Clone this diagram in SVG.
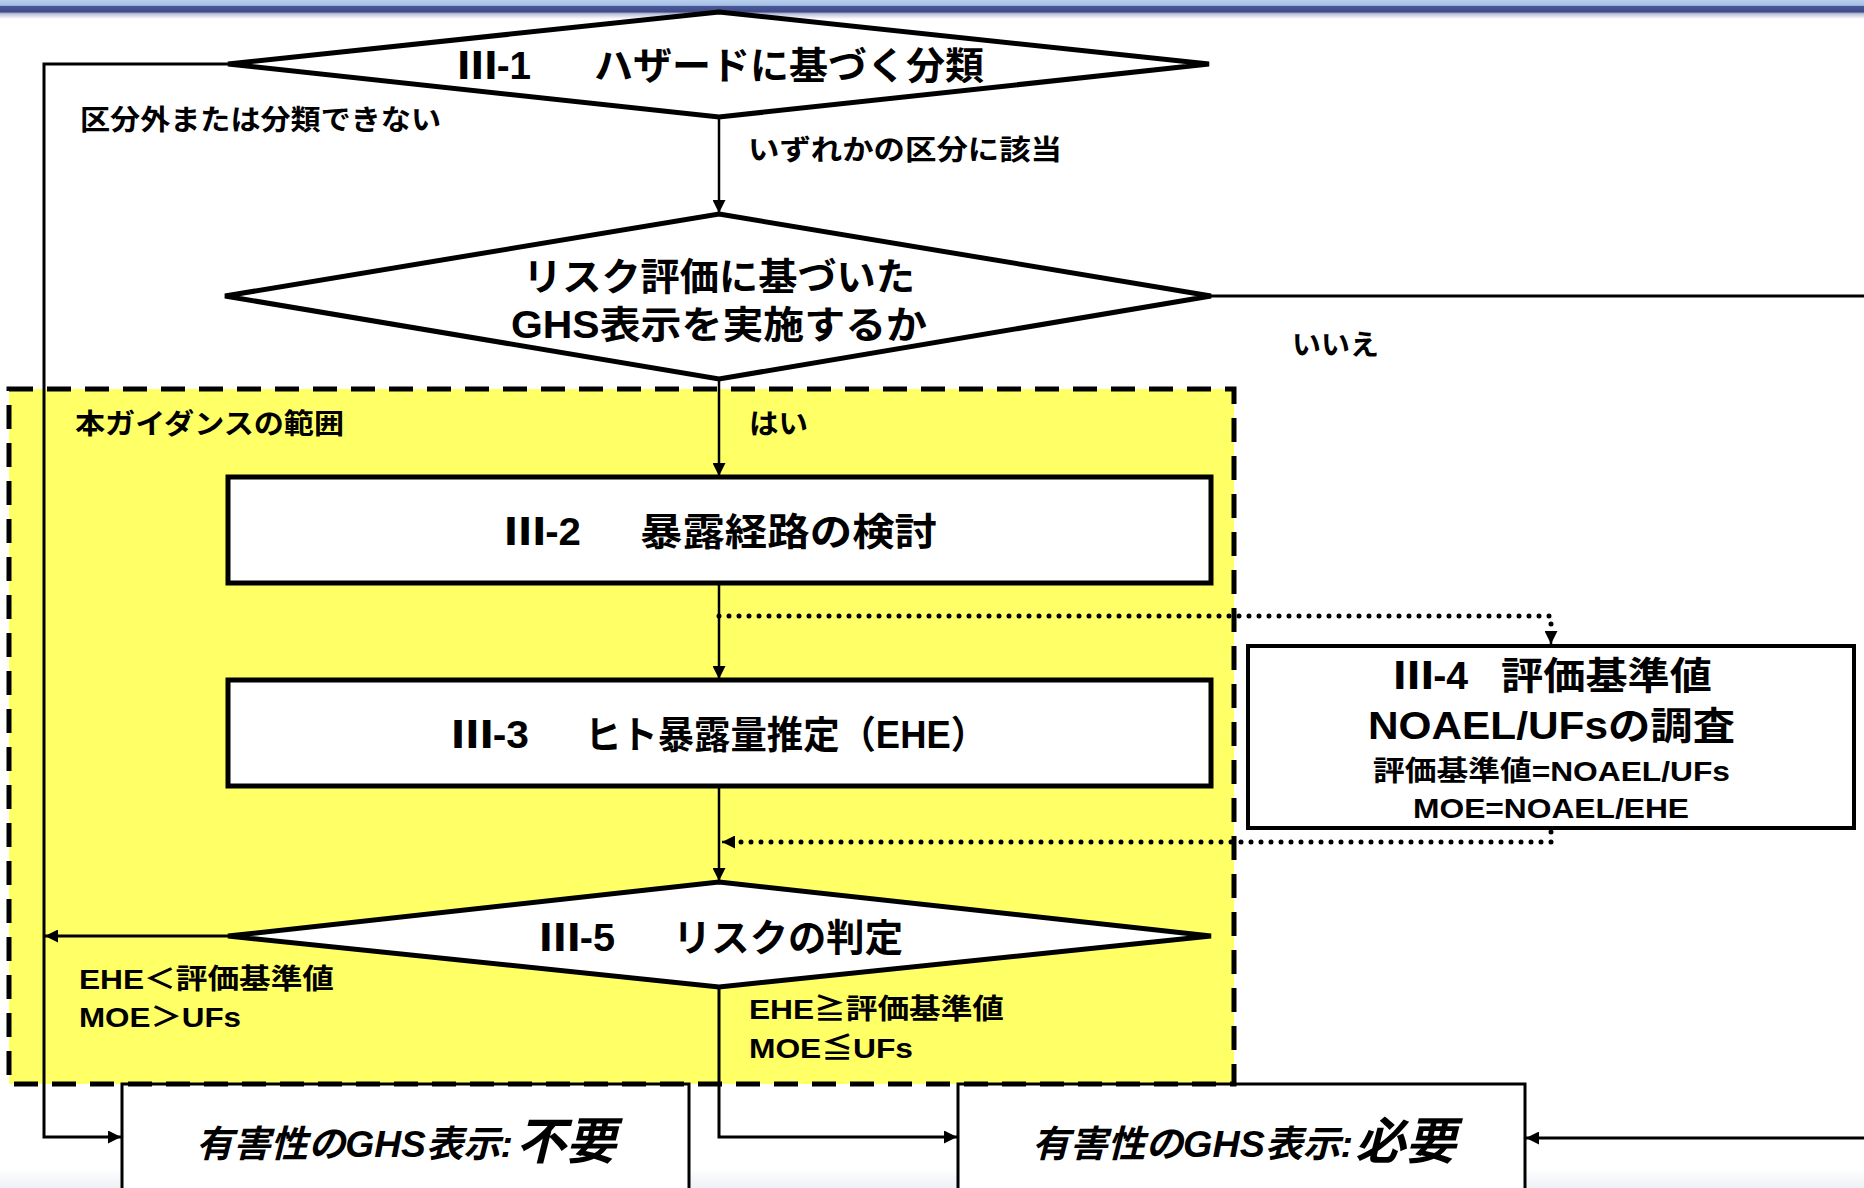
<svg xmlns="http://www.w3.org/2000/svg" width="1864" height="1188" viewBox="0 0 1864 1188">
<defs>
<linearGradient id="topband" x1="0" y1="0" x2="0" y2="1">
<stop offset="0" stop-color="#b9cfee"/>
<stop offset="0.28" stop-color="#a7c0e6"/>
<stop offset="0.34" stop-color="#4a5898"/>
<stop offset="0.62" stop-color="#3e4b88"/>
<stop offset="0.72" stop-color="#b9bfd8"/>
<stop offset="1" stop-color="#ffffff"/>
</linearGradient>
<linearGradient id="botband" x1="0" y1="0" x2="0" y2="1">
<stop offset="0" stop-color="#ffffff"/>
<stop offset="1" stop-color="#eef1f6"/>
</linearGradient>
<marker id="ah" viewBox="0 0 10 10" refX="10" refY="5" markerWidth="15" markerHeight="13" markerUnits="userSpaceOnUse" orient="auto">
<path d="M0,0 L10,5 L0,10 z" fill="#000"/>
</marker>
<marker id="ahs" viewBox="0 0 10 10" refX="10" refY="5" markerWidth="17" markerHeight="13" markerUnits="userSpaceOnUse" orient="auto">
<path d="M0,0 L10,5 L0,10 z" fill="#000"/>
</marker>
</defs>
<style>
.shape{fill:#fff;stroke:#000;stroke-width:5;stroke-linejoin:miter}
.box{fill:#fff;stroke:#000;stroke-width:4}
.bbox{fill:#fff;stroke:#000;stroke-width:3}
.ln{fill:none;stroke:#000;stroke-width:3}
.lnt{fill:none;stroke:#000;stroke-width:2.5}
.dot{fill:none;stroke:#000;stroke-width:5;stroke-dasharray:0 10;stroke-linecap:round}
.t{font-family:"Liberation Sans","Noto Sans CJK JP",sans-serif;font-weight:bold;fill:#000}
.r{font-family:"Noto Sans CJK JP",sans-serif;font-weight:900}
.big{font-size:38px}
.lab{font-size:28px}
.it{font-style:italic}
</style>
<rect x="0" y="0" width="1864" height="19" fill="url(#topband)"/>
<rect x="0" y="1168" width="1864" height="20" fill="url(#botband)"/>

<g id="scope-fill">
<rect x="9" y="389" width="1225" height="695" fill="#ffff66"/>
</g>

<g id="connectors">
<path class="ln" d="M228,64 H44 V1137 H121" marker-end="url(#ah)"/>
<path class="lnt" d="M719,117 V213" marker-end="url(#ahs)"/>
<path class="ln" d="M1211,296 H1864"/>
<path class="lnt" d="M719,379 V476" marker-end="url(#ahs)"/>
<path class="lnt" d="M719,583 V679" marker-end="url(#ahs)"/>
<path class="dot" d="M719,616 H1551 V632"/>
<path class="lnt" d="M1551,632 V644" marker-end="url(#ahs)"/>
<path class="lnt" d="M719,786 V881" marker-end="url(#ahs)"/>
<path class="dot" d="M1551,832 V842 H734"/>
<path class="lnt" d="M734,842 H722" marker-end="url(#ahs)"/>
<path class="ln" d="M228,936 H45" marker-end="url(#ah)"/>
<path class="ln" d="M719,987 V1137 H957" marker-end="url(#ah)"/>
<path class="ln" d="M1864,1138 H1526" marker-end="url(#ah)"/>
</g>

<g id="labels">
<text class="t lab" x="80" y="130" textLength="361" lengthAdjust="spacingAndGlyphs">区分外または分類できない</text>
<text class="t lab" x="748" y="160" textLength="314" lengthAdjust="spacingAndGlyphs">いずれかの区分に該当</text>
<text class="t lab" x="1292" y="355" textLength="87" lengthAdjust="spacingAndGlyphs">いいえ</text>
<text class="t lab" x="75" y="434" textLength="269" lengthAdjust="spacingAndGlyphs">本ガイダンスの範囲</text>
<text class="t lab" x="749" y="434" textLength="59" lengthAdjust="spacingAndGlyphs">はい</text>
<text class="t lab" x="79" y="989" textLength="255" lengthAdjust="spacingAndGlyphs">EHE＜評価基準値</text>
<text class="t lab" x="79" y="1027" textLength="162" lengthAdjust="spacingAndGlyphs">MOE＞UFs</text>
<text class="t lab" x="749" y="1019" textLength="255" lengthAdjust="spacingAndGlyphs">EHE≧評価基準値</text>
<text class="t lab" x="749" y="1058" textLength="164" lengthAdjust="spacingAndGlyphs">MOE≦UFs</text>
</g>

<g id="n1">
<polygon class="shape" points="719,12 1209,64 719,117 228,64"/>
<text class="t big" x="458" y="79" textLength="73" lengthAdjust="spacingAndGlyphs"><tspan class="r">Ⅲ</tspan>-1</text>
<text class="t big" x="594" y="79" textLength="390" lengthAdjust="spacingAndGlyphs">ハザードに基づく分類</text>
</g>

<g id="n2">
<polygon class="shape" points="719,214 1211,296 719,379 225,296"/>
<text class="t big" x="523" y="290" textLength="392" lengthAdjust="spacingAndGlyphs">リスク評価に基づいた</text>
<text class="t big" x="511" y="338" textLength="416" lengthAdjust="spacingAndGlyphs">GHS表示を実施するか</text>
</g>

<g id="n3">
<rect class="shape" x="228" y="477" width="983" height="106"/>
<text class="t big" x="505" y="545" textLength="76" lengthAdjust="spacingAndGlyphs"><tspan class="r">Ⅲ</tspan>-2</text>
<text class="t big" x="640" y="545" textLength="297" lengthAdjust="spacingAndGlyphs">暴露経路の検討</text>
</g>

<g id="n4">
<rect class="shape" x="228" y="680" width="983" height="106"/>
<text class="t big" x="452" y="748" textLength="77" lengthAdjust="spacingAndGlyphs"><tspan class="r">Ⅲ</tspan>-3</text>
<text class="t big" x="585" y="748" textLength="402" lengthAdjust="spacingAndGlyphs">ヒト暴露量推定（EHE）</text>
</g>

<g id="n5">
<rect class="box" x="1248" y="646" width="606" height="182"/>
<text class="t big" x="1394" y="689" textLength="74" lengthAdjust="spacingAndGlyphs"><tspan class="r">Ⅲ</tspan>-4</text>
<text class="t big" x="1501" y="689" textLength="211" lengthAdjust="spacingAndGlyphs">評価基準値</text>
<text class="t big" x="1368" y="739" textLength="367" lengthAdjust="spacingAndGlyphs">NOAEL/UFsの調査</text>
<text class="t lab" x="1373" y="781" textLength="357" lengthAdjust="spacingAndGlyphs">評価基準値=NOAEL/UFs</text>
<text class="t lab" x="1413" y="818" textLength="276" lengthAdjust="spacingAndGlyphs">MOE=NOAEL/EHE</text>
</g>

<g id="n6">
<polygon class="shape" points="719,882 1211,936 719,987 228,936"/>
<text class="t big" x="540" y="951" textLength="75" lengthAdjust="spacingAndGlyphs"><tspan class="r">Ⅲ</tspan>-5</text>
<text class="t big" x="673" y="951" textLength="230" lengthAdjust="spacingAndGlyphs">リスクの判定</text>
</g>

<g id="n7">
<rect class="bbox" x="122" y="1084" width="567" height="120"/>
<text class="t it" font-size="37" x="196" y="1157" textLength="317" lengthAdjust="spacingAndGlyphs">有害性のGHS表示:</text>
<text class="t it" font-size="50" x="516" y="1159" textLength="100" lengthAdjust="spacingAndGlyphs">不要</text>
</g>

<g id="n8">
<rect class="bbox" x="958" y="1084" width="567" height="120"/>
<text class="t it" font-size="37" x="1032" y="1157" textLength="321" lengthAdjust="spacingAndGlyphs">有害性のGHS表示:</text>
<text class="t it" font-size="50" x="1355" y="1159" textLength="101" lengthAdjust="spacingAndGlyphs">必要</text>
</g>

<g id="scope-border">
<rect x="9" y="389" width="1225" height="695" fill="none" stroke="#000" stroke-width="5" stroke-dasharray="24 14"/>
</g>
</svg>
